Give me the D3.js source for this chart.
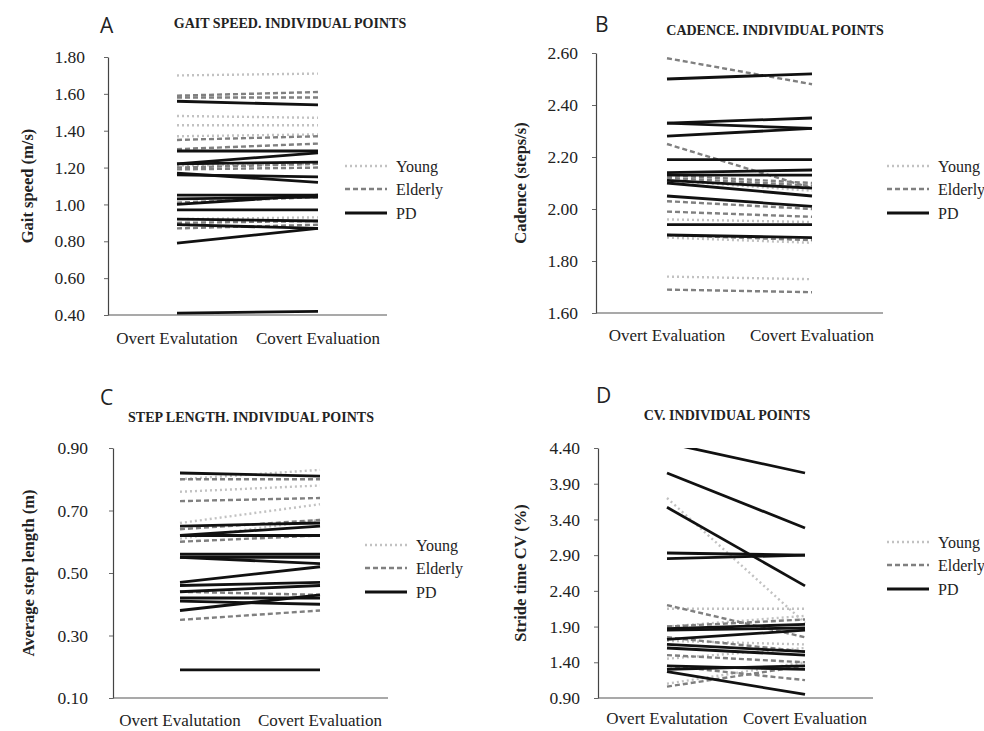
<!DOCTYPE html>
<html>
<head>
<meta charset="utf-8">
<script src="https://cdn.jsdelivr.net/npm/d3@7"></script>
<style>
  body { margin: 0; background: #fff; }
  svg text { font-family: "Liberation Serif", "Times New Roman", serif; fill: #222; }
  .letter { font-family: "Open Sans", "DejaVu Sans", sans-serif !important; font-size: 21px; }
  .title { font-weight: bold; font-size: 14px; }
  .ylab { font-weight: bold; font-size: 16.5px; }
  .cat { font-size: 17px; }
  .legend text { font-size: 16px; }
</style>
</head>
<body>
<svg id="chart" width="984" height="731"></svg>
<script>
// group styles
var groups = ["Young", "Elderly", "PD"];

// A: gait speed (m/s), [overt, covert]
var gaitYoung = [[1.70, 1.71], [1.48, 1.47], [1.43, 1.43], [1.37, 1.38], [1.21, 1.22], [0.92, 0.93]];
var gaitElderly = [[1.59, 1.61], [1.58, 1.58], [1.35, 1.37], [1.30, 1.33], [1.20, 1.22], [1.19, 1.20], [0.90, 0.91], [0.87, 0.89], [1.01, 1.04]];
var gaitPD = [[1.56, 1.54], [1.29, 1.29], [1.22, 1.28], [1.17, 1.12], [1.16, 1.15], [1.22, 1.23], [1.05, 1.05], [1.03, 1.04], [1.00, 1.05],
  [0.97, 0.97], [0.92, 0.91], [0.89, 0.87], [0.79, 0.87], [0.41, 0.42]];

// B: cadence (steps/s)
var cadYoung = [[1.74, 1.73], [1.96, 1.95], [1.89, 1.87], [2.11, 2.07]];
var cadElderly = [[2.58, 2.48], [2.25, 2.08], [2.13, 2.10], [2.03, 2.00], [1.99, 1.97], [1.90, 1.88], [1.69, 1.68], [2.12, 2.09]];
var cadPD = [[2.50, 2.52], [2.33, 2.35], [2.33, 2.31], [2.28, 2.31], [2.19, 2.19], [2.14, 2.15], [2.13, 2.13], [2.11, 2.08],
  [2.10, 2.05], [2.05, 2.01], [1.94, 1.94], [1.90, 1.89]];

// C: average step length (m)
var stepYoung = [[0.80, 0.83], [0.76, 0.78], [0.66, 0.72], [0.61, 0.67]];
var stepElderly = [[0.80, 0.80], [0.73, 0.74], [0.64, 0.67], [0.60, 0.62], [0.44, 0.43], [0.35, 0.38]];
var stepPD = [[0.82, 0.81], [0.65, 0.66], [0.62, 0.65], [0.62, 0.62], [0.56, 0.56], [0.55, 0.53], [0.55, 0.55], [0.47, 0.52],
  [0.46, 0.47], [0.44, 0.46], [0.42, 0.42], [0.41, 0.40], [0.38, 0.43], [0.19, 0.19]];

// D: stride time CV (%)
var cvYoung = [[3.70, 1.95], [2.15, 2.15], [1.70, 1.65], [1.45, 1.60], [1.10, 1.40], [1.90, 2.05]];
var cvElderly = [[2.20, 1.75], [1.90, 2.00], [1.50, 1.40], [1.35, 1.15], [1.06, 1.35], [1.75, 1.55]];
var cvPD = [[4.47, 4.05], [4.05, 3.28], [3.57, 2.47], [2.93, 2.90], [2.85, 2.90], [1.87, 1.93], [1.85, 1.88], [1.72, 1.85],
  [1.65, 1.55], [1.60, 1.50], [1.35, 1.30], [1.27, 0.95], [1.30, 1.35]];

var catsA = ["Overt Evalutation", "Covert Evaluation"];
var catsB = ["Overt Evaluation", "Covert Evaluation"];

var styles = {
  Young: { stroke: "#c2c2c2", width: 2.4, dash: "2,3" },
  Elderly: { stroke: "#808080", width: 2.4, dash: "5,3" },
  PD: { stroke: "#111", width: 2.8, dash: null }
};

var svg = d3.select("#chart");

var panels = [
  { id: "a", letter: "A", title: "GAIT SPEED. INDIVIDUAL POINTS", ylab: "Gait speed (m/s)",
    cats: catsA, series: [gaitYoung, gaitElderly, gaitPD], domain: [0.40, 1.80], step: 0.2,
    ax: 108, top: 57, bottom: 315, right: 387, x0: 177, x1: 318, pad: 19,
    letterPos: [100, 33], titlePos: [290, 28], ylabX: 27, catY: 344, legX: 345, legY: [166, 189, 213] },
  { id: "b", letter: "B", title: "CADENCE. INDIVIDUAL POINTS", ylab: "Cadence (steps/s)",
    cats: catsB, series: [cadYoung, cadElderly, cadPD], domain: [1.60, 2.60], step: 0.2,
    ax: 596, top: 53, bottom: 313, right: 883, x0: 667, x1: 812, pad: 14,
    letterPos: [595, 32], titlePos: [775, 35], ylabX: 520, catY: 341, legX: 887, legY: [166, 189, 213] },
  { id: "c", letter: "C", title: "STEP LENGTH. INDIVIDUAL POINTS", ylab: "Average step length (m)",
    cats: catsA, series: [stepYoung, stepElderly, stepPD], domain: [0.10, 0.90], step: 0.2,
    ax: 113, top: 448, bottom: 698, right: 388, x0: 180, x1: 320, pad: 21,
    letterPos: [100, 405], titlePos: [251, 422], ylabX: 28, catY: 726, legX: 365, legY: [545, 568, 592] },
  { id: "d", letter: "D", title: "CV. INDIVIDUAL POINTS", ylab: "Stride time CV (%)",
    cats: catsA, series: [cvYoung, cvElderly, cvPD], domain: [0.90, 4.40], step: 0.5,
    ax: 598, top: 448, bottom: 698, right: 873, x0: 667, x1: 805, pad: 14,
    letterPos: [596, 403], titlePos: [727, 420], ylabX: 520, catY: 724, legX: 887, legY: [542, 565, 589] }
];

panels.forEach(drawPanel);

function drawPanel(p) {
  var g = svg.append("g").attr("class", "panel-" + p.id);

  var y = d3.scaleLinear().domain(p.domain).range([p.bottom, p.top]);
  var x = d3.scalePoint().domain(p.cats).range([p.x0, p.x1]);

  // clip lines to the plot box
  g.append("clipPath").attr("id", "clip-" + p.id)
    .append("rect")
    .attr("x", p.ax).attr("y", p.top)
    .attr("width", p.right - p.ax).attr("height", p.bottom - p.top);

  var ticks = d3.range(p.domain[0], p.domain[1] + 1e-6, p.step);

  var axis = g.append("g")
    .attr("transform", "translate(" + p.ax + ",0)")
    .call(d3.axisLeft(y).tickValues(ticks).tickFormat(d3.format(".2f")).tickSize(4).tickSizeOuter(0).tickPadding(p.pad))
    .attr("font-family", "Liberation Serif")
    .attr("font-size", 17.5);
  axis.select(".domain").attr("stroke", "#444").attr("stroke-width", 1.2);
  axis.selectAll(".tick line").attr("stroke", "#666");

  g.append("line")
    .attr("x1", p.ax).attr("x2", p.right)
    .attr("y1", p.bottom).attr("y2", p.bottom)
    .attr("stroke", "#555").attr("stroke-width", 1.2);

  var line = d3.line()
    .x(function (d, i) { return x(p.cats[i]); })
    .y(function (d) { return y(d); });

  var plot = g.append("g").attr("clip-path", "url(#clip-" + p.id + ")");
  p.series.forEach(function (rows, k) {
    var s = styles[groups[k]];
    plot.selectAll(".l" + k)
      .data(rows)
      .enter().append("path")
      .attr("d", line)
      .attr("fill", "none")
      .attr("stroke", s.stroke)
      .attr("stroke-width", s.width)
      .attr("stroke-dasharray", s.dash);
  });

  // category labels
  g.selectAll(".cat")
    .data(p.cats)
    .enter().append("text")
    .attr("class", "cat")
    .attr("x", function (d) { return x(d); })
    .attr("y", p.catY)
    .attr("text-anchor", "middle")
    .text(function (d) { return d; });

  // y label
  g.append("text")
    .attr("class", "ylab")
    .attr("transform", "translate(" + p.ylabX + "," + ((p.top + p.bottom) / 2) + ") rotate(-90)")
    .attr("text-anchor", "middle")
    .attr("dy", "0.35em")
    .text(p.ylab);

  g.append("text").attr("class", "letter")
    .attr("x", p.letterPos[0]).attr("y", p.letterPos[1]).text(p.letter);
  g.append("text").attr("class", "title")
    .attr("x", p.titlePos[0]).attr("y", p.titlePos[1])
    .attr("text-anchor", "middle").text(p.title);

  // legend
  var leg = g.append("g").attr("class", "legend");
  groups.forEach(function (name, k) {
    var s = styles[name];
    leg.append("line")
      .attr("x1", p.legX).attr("x2", p.legX + 42)
      .attr("y1", p.legY[k]).attr("y2", p.legY[k])
      .attr("stroke", s.stroke).attr("stroke-width", s.width)
      .attr("stroke-dasharray", s.dash);
    leg.append("text")
      .attr("x", p.legX + 51).attr("y", p.legY[k])
      .attr("dy", "0.35em")
      .text(name);
  });
}
</script>
</body>
</html>
